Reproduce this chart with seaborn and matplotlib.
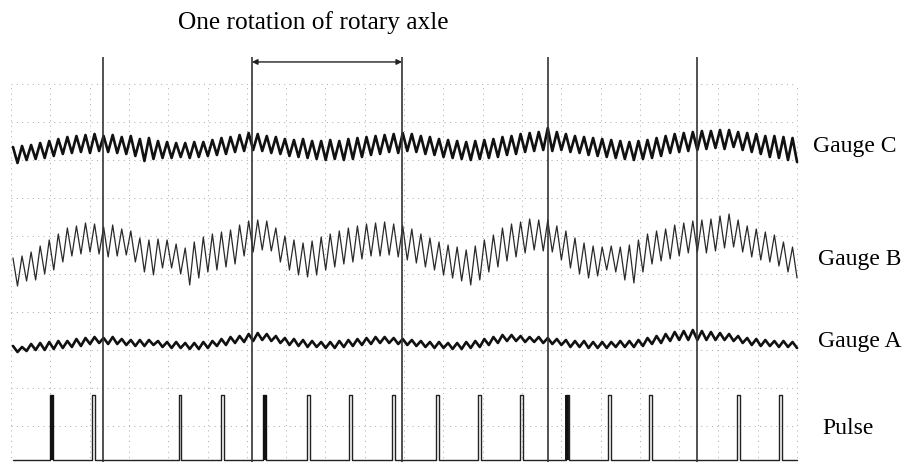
import numpy as np
import pandas as pd
import matplotlib
matplotlib.use("Agg")
import matplotlib.pyplot as plt
import seaborn as sns

# ---------------- data (read from the recording) ----------------
# time axis in screen divisions (0..20), signals in recorder units
gauge_c_peak = [1, 2, 3, 5, 7, 9, 11, 12, 13, 14,
                12, 13, 11, 12, 9, 10, 7, 6, 5, 5,
                6, 6, 8, 10, 11, 13, 15, 14, 12, 11,
                9, 8, 9, 7, 7, 8, 7, 9, 10, 11,
                12, 13, 14, 15, 14, 12, 11, 9, 8, 7,
                6, 7, 8, 9, 11, 12, 14, 15, 16, 20,
                16, 14, 12, 11, 10, 9, 8, 7, 6, 7,
                8, 10, 12, 14, 15, 16, 17, 17, 18, 18,
                16, 15, 14, 12, 12, 11, 10]
gauge_c_trough = [-15, -12, -11, -10, -8, -6, -5, -4, -5, -3,
                  -4, -5, -6, -8, -13, -11, -10, -10, -9, -10,
                  -9, -8, -7, -6, -4, -3, -2, -3, -5, -6,
                  -8, -9, -10, -11, -12, -11, -12, -11, -9, -7,
                  -6, -4, -5, -3, -4, -6, -7, -9, -10, -11,
                  -12, -11, -10, -9, -7, -6, -4, -3, -2, -3,
                  -2, -4, -5, -7, -8, -9, -10, -11, -12, -11,
                  -10, -8, -5, -4, -3, -2, -1, 0, -1, 1,
                  -2, -4, -6, -9, -10, -12, -14]

gauge_b_peak = [-8, -6, -2, 4, 10, 16, 22, 24, 27, 26,
                23, 25, 21, 19, 12, 10, 11, 10, 6, 2,
                8, 13, 16, 18, 20, 25, 29, 30, 29, 22,
                14, 10, 7, 9, 13, 16, 19, 22, 24, 26,
                27, 28, 26, 24, 21, 16, 12, 8, 5, 3,
                0, 4, 10, 15, 22, 26, 28, 31, 30, 30,
                24, 19, 12, 7, 4, 3, 4, 3, 5, 10,
                16, 19, 21, 25, 27, 29, 30, 31, 34, 36,
                30, 24, 21, 18, 15, 8, 3]
gauge_b_trough = [-36, -31, -30, -24, -20, -12, -6, -4, -2, -4,
                  -7, -6, -5, -12, -22, -25, -18, -18, -24, -35,
                  -28, -22, -20, -17, -14, -6, -2, 0, -1, -12,
                  -20, -25, -27, -25, -20, -17, -14, -12, -9, -6,
                  -6, -5, -7, -10, -13, -17, -20, -25, -28, -31,
                  -35, -30, -22, -17, -11, -7, -3, 0, -1, -2,
                  -10, -18, -24, -28, -26, -20, -22, -30, -33, -22,
                  -14, -11, -9, -6, -3, -2, -3, -1, 2, 3,
                  -2, -7, -10, -12, -16, -22, -28]

gauge_a_peak = [-2, -3, 0, 1, 2, 3, 3, 5, 6, 7,
                6, 7, 5, 4, 4, 4, 3, 2, 2, 1,
                1, 2, 3, 5, 7, 8, 10, 11, 10, 8,
                6, 5, 4, 3, 2, 2, 3, 4, 5, 6,
                7, 7, 6, 5, 4, 3, 2, 2, 1, 1,
                2, 3, 5, 7, 9, 9, 8, 7, 7, 6,
                5, 4, 3, 3, 2, 2, 2, 3, 3, 4,
                6, 8, 10, 12, 13, 14, 13, 12, 11, 10,
                8, 6, 5, 4, 3, 3, 2]
gauge_a_trough = [-8, -7, -6, -6, -5, -4, -3, -2, 0, 1,
                  0, 0, -1, -2, -2, -1, -3, -4, -4, -5,
                  -5, -4, -2, -1, 1, 2, 3, 4, 3, 1,
                  -1, -2, -3, -3, -4, -4, -3, -2, -1, 0,
                  1, 1, 0, -1, -2, -3, -4, -4, -5, -5,
                  -4, -3, -1, 1, 3, 3, 2, 2, 1, 0,
                  -1, -3, -3, -4, -4, -4, -3, -3, -3, -2,
                  0, 1, 3, 4, 4, 4, 4, 4, 4, 3,
                  1, -1, -2, -2, -3, -3, -4]

pulse_times = [1.04, 2.09, 4.30, 5.37, 6.46, 7.58, 8.63, 9.72, 10.84,
               11.91, 13.00, 14.15, 15.22, 16.26, 18.50, 19.57]
pulse_solid = [1.04, 6.46, 14.15]          # pulses recorded as solid bars
rotation_marks = [2.34, 6.13, 9.95, 13.66, 17.46]
rotation_span = (6.13, 9.95)

channel_names = ["Gauge C", "Gauge B", "Gauge A", "Pulse"]

# ---------------- layout / style ----------------
sns.set_theme(style="white")
plt.rcParams["font.family"] = ["Liberation Serif", "DejaVu Serif"]
plt.rcParams["text.color"] = "black"

fig = plt.figure(figsize=(9.13, 4.62), dpi=100)
ax = fig.add_axes([0, 0, 1, 1])
ax.set_xlim(-0.28, 22.95)
ax.set_ylim(0.0526, 12.2105)
ax.axis("off")

gain = 1 / 38.0
offsets = {"Gauge C": 8.316, "Gauge B": 5.632, "Gauge A": 3.158}
t_start, t_end = 0.05, 20.0

# grid (dotted, oscilloscope screen)
grid_kw = dict(color="#a8a8a8", lw=0.7, linestyles=(0, (1, 4.5)), zorder=1)
ax.hlines(np.arange(1, 11), 0, 20, **grid_kw)
ax.vlines(np.arange(0, 21), 0, 10.0, **grid_kw)

def interleave(p, t):
    out = []
    for a, b in zip(p, t):
        out += [a, b]
    return np.array(out, dtype=float)

rows = []
for name, pk, tr in [("Gauge C", gauge_c_peak, gauge_c_trough),
                     ("Gauge B", gauge_b_peak, gauge_b_trough),
                     ("Gauge A", gauge_a_peak, gauge_a_trough)]:
    sig = interleave(pk, tr)
    t = np.linspace(t_start, t_end, len(sig))
    for ti, si in zip(t, sig):
        rows.append((name, ti, offsets[name] + si * gain))
df = pd.DataFrame(rows, columns=["channel", "t", "y"])

styles = {"Gauge C": dict(lw=1.9, color="#111111"),
          "Gauge B": dict(lw=0.9, color="#2a2a2a"),
          "Gauge A": dict(lw=1.9, color="#111111")}
for name in ["Gauge C", "Gauge B", "Gauge A"]:
    sns.lineplot(data=df[df.channel == name], x="t", y="y", estimator=None,
                 sort=False, ax=ax, legend=False, zorder=3, **styles[name])

# pulse channel
p_base, p_height, p_w = 0.105, 1.71, 0.075
px, py = [t_start], [p_base]
for tp in pulse_times:
    px += [tp - p_w / 2, tp - p_w / 2, tp + p_w / 2, tp + p_w / 2]
    py += [p_base, p_base + p_height, p_base + p_height, p_base]
px.append(t_end)
py.append(p_base)
pulse_df = pd.DataFrame({"t": px, "y": py})
sns.lineplot(data=pulse_df, x="t", y="y", estimator=None, sort=False, ax=ax,
             legend=False, color="#222222", lw=1.0, zorder=3)
solid_df = pd.DataFrame({"t": pulse_solid, "lo": p_base, "hi": p_base + p_height})
ax.vlines(solid_df["t"], solid_df["lo"], solid_df["hi"], color="#111111", lw=2.8, zorder=3)

# rotation marks
ax.vlines(rotation_marks, -0.5, 10.71, color="#333333", lw=1.2, zorder=4)
ax.annotate("", xy=(rotation_span[0], 10.58), xytext=(rotation_span[1], 10.58),
            arrowprops=dict(arrowstyle="<|-|>", lw=1.0, color="#222222",
                            mutation_scale=8, shrinkA=0, shrinkB=0))
ax.text(7.68, 11.45, "One rotation of rotary axle", ha="center", va="baseline",
        fontsize=18.3, color="black")

# channel labels
label_pos = {"Gauge C": (20.41, 8.21), "Gauge B": (20.53, 5.24),
             "Gauge A": (20.53, 3.08), "Pulse": (20.64, 0.79)}
for name in channel_names:
    x0, y0 = label_pos[name]
    ax.text(x0, y0, name, ha="left", va="baseline", fontsize=17, color="black")

fig.savefig("out.png", dpi=100)
